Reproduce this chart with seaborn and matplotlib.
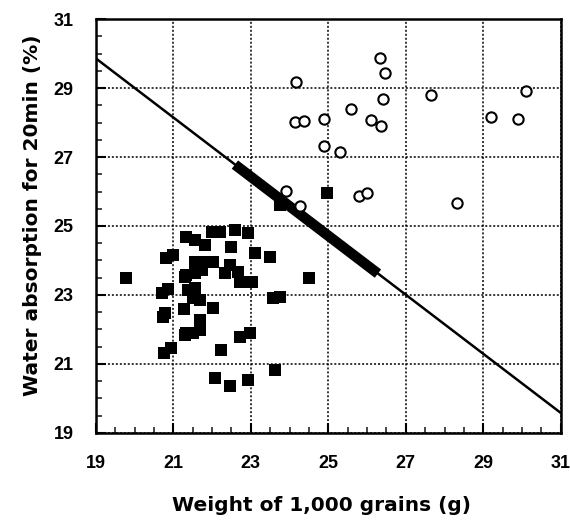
import numpy as np
import pandas as pd
import matplotlib
matplotlib.use('Agg')
import matplotlib.pyplot as plt
import seaborn as sns
from matplotlib.ticker import MultipleLocator

# filled squares
sq_x = [19.77, 20.82, 20.99, 20.70, 20.87, 20.74, 20.78, 20.75, 20.95, 21.30,
        21.38, 21.27, 21.30, 21.34, 21.55, 21.81, 21.99, 22.20, 22.59, 22.93,
        22.50, 23.10, 23.49, 21.55, 21.77, 22.03, 21.34, 21.55, 21.73, 22.46,
        22.33, 22.67, 22.72, 23.02, 21.55, 21.51, 21.68, 22.03, 23.58, 23.75,
        21.68, 21.68, 21.34, 21.51, 22.72, 22.97, 22.24, 23.62, 22.07, 22.46,
        22.93, 24.50, 24.96, 23.75]
sq_y = [23.48, 24.06, 24.16, 23.05, 23.17, 22.35, 22.47, 21.31, 21.45, 23.53,
        23.14, 22.59, 21.84, 24.69, 24.59, 24.45, 24.84, 24.84, 24.88, 24.79,
        24.40, 24.21, 24.11, 23.97, 23.97, 23.97, 23.58, 23.63, 23.72, 23.87,
        23.63, 23.68, 23.39, 23.39, 23.19, 22.90, 22.86, 22.61, 22.90, 22.95,
        22.28, 21.99, 21.89, 21.89, 21.79, 21.89, 21.41, 20.83, 20.59, 20.36,
        20.54, 23.48, 25.96, 25.61]

# open circles
ci_x = [26.33, 26.46, 24.16, 30.09, 27.65, 26.40, 25.58, 24.14, 24.37, 24.88,
        26.11, 26.37, 29.19, 29.90, 24.89, 25.30, 23.90, 24.26, 25.79, 26.01,
        28.33]
ci_y = [29.86, 29.44, 29.17, 28.92, 28.80, 28.67, 28.38, 28.02, 28.05, 28.11,
        28.07, 27.91, 28.15, 28.09, 27.32, 27.15, 26.02, 25.59, 25.88, 25.97,
        25.66]

# regression line and highlighted segment
line_x = [19, 31]
line_y = [29.86, 19.58]
seg_x = [22.59, 26.28]
seg_y = [26.78, 23.62]

ticks = [19, 21, 23, 25, 27, 29, 31]

sns.set_style('ticks')
plt.rcParams['font.family'] = ['Liberation Sans', 'DejaVu Sans']
plt.rcParams['font.weight'] = 'bold'
plt.rcParams['text.color'] = 'black'

fig = plt.figure(figsize=(5.7, 5.22), dpi=100)
ax = fig.add_axes([0.168, 0.1705, 0.816, 0.7931])

sns.lineplot(x=line_x, y=line_y, ax=ax, color='black', lw=1.8, zorder=3)
sns.lineplot(x=seg_x, y=seg_y, ax=ax, color='black', lw=7.5, zorder=3,
             solid_capstyle='butt')
sns.scatterplot(x=sq_x, y=sq_y, ax=ax, marker='s', s=72, color='black',
                edgecolor='black', linewidth=0, zorder=4)
sns.scatterplot(x=ci_x, y=ci_y, ax=ax, marker='o', s=55, facecolor='white',
                edgecolor='black', linewidth=1.5, zorder=4)

ax.set_xlim(19, 31)
ax.set_ylim(19, 31)
ax.set_xticks(ticks)
ax.set_yticks(ticks)
ax.xaxis.set_minor_locator(MultipleLocator(0.5))
ax.yaxis.set_minor_locator(MultipleLocator(0.5))
ax.tick_params(which='major', direction='in', length=7, width=1.5,
               labelsize=13, pad=16, colors='black')
ax.tick_params(which='minor', direction='in', length=4, width=1.2)
for lab in ax.get_xticklabels() + ax.get_yticklabels():
    lab.set_fontweight('bold')

ax.grid(True, which='major', color='black', linestyle=(0, (1.3, 1.3)), lw=1.1)
for sp in ax.spines.values():
    sp.set_linewidth(1.8)
    sp.set_color('black')

ax.set_xlabel('Weight of 1,000 grains (g)', fontsize=14.5, fontweight='bold',
              family='DejaVu Sans', color='black', va='center')
ax.set_ylabel('Water absorption for 20min (%)', fontsize=14.5, fontweight='bold',
              family='DejaVu Sans', color='black', va='center')
ax.xaxis.set_label_coords(0.485, -0.174)
ax.yaxis.set_label_coords(-0.135, 0.525)

fig.savefig('out.png', dpi=100)
